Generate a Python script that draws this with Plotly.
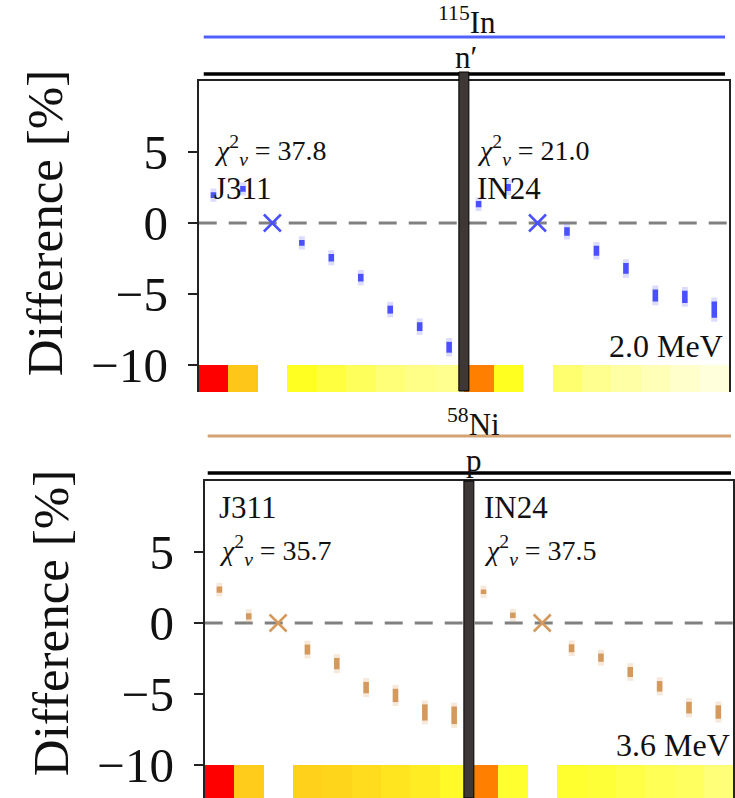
import plotly.graph_objects as go

# ---------------- data ----------------
libraries = ["J311", "IN24"]
n_per_lib = 9

# 115In (n')  top panel
in_diff_j311 = [1.96, 2.4, 0.0, -1.4, -2.45, -3.85, -6.1, -7.3, -8.75]
in_err_j311 = [0.2, 0.2, 0.0, 0.2, 0.26, 0.27, 0.28, 0.31, 0.38]
in_diff_in24 = [1.33, 2.5, 0.0, -0.6, -1.95, -3.2, -5.1, -5.2, -6.1]
in_err_in24 = [0.22, 0.25, 0.0, 0.3, 0.35, 0.38, 0.42, 0.43, 0.58]
in_chi2 = [37.8, 21.0]
in_energy = "2.0 MeV"
in_cells_j311 = ["#ff0000", "#ffc61a", "#ffffff", "#ffff22", "#ffff40", "#ffff5c", "#ffff78", "#ffff88", "#ffff90"]
in_cells_in24 = ["#ff8000", "#ffff20", "#ffffff", "#ffff70", "#ffff90", "#ffffa6", "#ffffb8", "#ffffcc", "#ffffdc"]

# 58Ni (p)  bottom panel
ni_diff_j311 = [2.35, 0.47, 0.0, -1.87, -2.86, -4.55, -5.1, -6.3, -6.5]
ni_err_j311 = [0.22, 0.22, 0.0, 0.35, 0.4, 0.4, 0.47, 0.57, 0.62]
ni_diff_in24 = [2.2, 0.54, 0.0, -1.78, -2.44, -3.45, -4.46, -5.96, -6.27]
ni_err_in24 = [0.16, 0.19, 0.0, 0.28, 0.29, 0.35, 0.37, 0.41, 0.47]
ni_chi2 = [35.7, 37.5]
ni_energy = "3.6 MeV"
ni_cells_j311 = ["#ff0000", "#ffcc1c", "#ffffff", "#ffd11a", "#ffd51c", "#ffdd1e", "#ffe420", "#ffec22", "#fffa28"]
ni_cells_in24 = ["#ff8000", "#ffff30", "#ffffff", "#ffff30", "#ffff38", "#ffff48", "#ffff55", "#ffff60", "#ffff78"]

y_ticks = [-10, -5, 0, 5]

# ---------------- styling ----------------
W, H = 735, 798          # target picture size (positions below are in these pixels)
FIG_H = 826              # layout height (picture is rendered squeezed to 798)
FONT = "Liberation Serif"
BLUE = "#4a4fff"
BLUE_HALO = "rgba(110,115,255,0.25)"
TAN = "#d4995c"
TAN_HALO = "rgba(212,153,92,0.22)"


def px(x):
    return x / W


def py(y):
    return 1 - y / H


fig = go.Figure()

panels = [
    dict(xa="x", ya="y", xs="x2", ys="y2",
         diffs=[in_diff_j311, in_diff_in24], errs=[in_err_j311, in_err_in24],
         cells=in_cells_j311 + in_cells_in24, color=BLUE, halo=BLUE_HALO),
    dict(xa="x3", ya="y3", xs="x4", ys="y4",
         diffs=[ni_diff_j311, ni_diff_in24], errs=[ni_err_j311, ni_err_in24],
         cells=ni_cells_j311 + ni_cells_in24, color=TAN, halo=TAN_HALO),
]

for p in panels:
    for li, (d, e) in enumerate(zip(p["diffs"], p["errs"])):
        xs = [li * n_per_lib + i for i in range(n_per_lib)]
        ref = [i for i, v in enumerate(e) if v == 0]
        pts = [i for i, v in enumerate(e) if v != 0]
        fig.add_trace(go.Scatter(
            x=[xs[i] for i in pts], y=[d[i] for i in pts], mode="markers",
            marker=dict(size=1, color="rgba(0,0,0,0)"),
            error_y=dict(type="data", array=[e[i] + 0.27 for i in pts], width=0,
                         thickness=6, color=p["halo"]),
            xaxis=p["xa"], yaxis=p["ya"], hoverinfo="skip"))
        fig.add_trace(go.Scatter(
            x=[xs[i] for i in pts], y=[d[i] for i in pts], mode="markers",
            marker=dict(size=1, color="rgba(0,0,0,0)"),
            error_y=dict(type="data", array=[e[i] for i in pts], width=0,
                         thickness=5.5, color=p["color"]),
            xaxis=p["xa"], yaxis=p["ya"]))
        fig.add_trace(go.Scatter(
            x=[xs[i] for i in ref], y=[d[i] for i in ref], mode="markers",
            marker=dict(symbol="x-thin", size=17, line=dict(width=2.5, color=p["color"])),
            xaxis=p["xa"], yaxis=p["ya"]))
    fig.add_trace(go.Bar(
        x=list(range(2 * n_per_lib)), y=[1] * (2 * n_per_lib), width=1,
        marker=dict(color=p["cells"], line=dict(width=0)),
        xaxis=p["xs"], yaxis=p["ys"], hoverinfo="skip"))

xr = [-0.5, 2 * n_per_lib - 0.5]
LINE = "#222222"

main_y = dict(range=[-10, 10], tickvals=y_ticks, ticks="outside", ticklen=9, tickwidth=1.5,
              tickcolor=LINE, tickfont=dict(family=FONT, size=49, color="#111"),
              ticklabelstandoff=10,
              showline=True, mirror=True, linecolor=LINE, linewidth=2,
              showgrid=False, zeroline=False,
              title=dict(text="Difference [%]", font=dict(family=FONT, size=51, color="#111"),
                         standoff=12))
main_x = dict(range=xr, showticklabels=False, ticks="", showline=True, mirror=True,
              linecolor=LINE, linewidth=2, showgrid=False, zeroline=False)
strip_x = dict(range=xr, showticklabels=False, ticks="", showline=False, showgrid=False,
               zeroline=False)
strip_y = dict(range=[0, 1], showticklabels=False, ticks="", showline=True, mirror=True,
               linecolor=LINE, linewidth=2, showgrid=False, zeroline=False)

fig.update_layout(
    width=W, height=FIG_H, margin=dict(l=0, r=0, t=0, b=0),
    paper_bgcolor="white", plot_bgcolor="white", showlegend=False, bargap=0,
    xaxis=dict(main_x, domain=[px(199), px(730)], anchor="y"),
    yaxis=dict(main_y, domain=[py(365), py(81)], anchor="x"),
    xaxis2=dict(strip_x, domain=[px(199), px(730)], anchor="y2"),
    yaxis2=dict(strip_y, domain=[py(392), py(365)], anchor="x2"),
    xaxis3=dict(main_x, domain=[px(205), px(734)], anchor="y3"),
    yaxis3=dict(main_y, domain=[py(765), py(481)], anchor="x3"),
    xaxis4=dict(strip_x, domain=[px(205), px(734)], anchor="y4"),
    yaxis4=dict(strip_y, domain=[0, py(765)], anchor="x4"),
)

shapes = []
for xa, ya in [("x", "y"), ("x3", "y3")]:
    shapes.append(dict(type="line", xref=f"{xa} domain", yref=ya, x0=0, x1=1, y0=0, y1=0,
                       line=dict(color="#808080", width=3, dash="18px,12px"), layer="below"))
shapes += [
    dict(type="line", xref="paper", yref="paper", x0=px(204), x1=px(726), y0=py(37), y1=py(37),
         line=dict(color="#5060ff", width=3)),
    dict(type="line", xref="paper", yref="paper", x0=px(204), x1=px(726), y0=py(74), y1=py(74),
         line=dict(color="black", width=3.5)),
    dict(type="line", xref="paper", yref="paper", x0=px(208), x1=px(732), y0=py(436), y1=py(436),
         line=dict(color="#d4a373", width=3)),
    dict(type="line", xref="paper", yref="paper", x0=px(208), x1=px(732), y0=py(473), y1=py(473),
         line=dict(color="black", width=3.5)),
]
sep = n_per_lib - 0.5
for xa, y0, y1 in [("x", 391, 72), ("x3", 798, 481)]:
    shapes.append(dict(type="rect", xref=xa, yref="paper", x0=sep - 0.17, x1=sep + 0.17,
                       y0=py(y0), y1=py(y1), fillcolor="#3d3836",
                       line=dict(color="black", width=1), layer="above"))
fig.update_layout(shapes=shapes)

ann = []


def text(x, y, s, size, xanchor="left"):
    ann.append(dict(x=px(x), y=py(y), xref="paper", yref="paper", text=s, showarrow=False,
                    xanchor=xanchor, yanchor="middle",
                    font=dict(family=FONT, size=size, color="#111")))


def chi(v):
    return f"<i>χ</i><sup>2</sup><sub><i>ν</i></sub> = {v:.1f}"


text(468, 20, "<sup>115</sup>In", 31, "center")
text(467, 58, "n′", 31, "center")
text(212, 150, chi(in_chi2[0]), 28)
text(212, 188, libraries[0], 31)
text(476, 150, chi(in_chi2[1]), 28)
text(476, 188, libraries[1], 31)
text(726, 346, in_energy, 32, "right")
text(474, 422, "<sup>58</sup>Ni", 31, "center")
text(475, 460, "p", 31, "center")
text(217, 507, libraries[0], 31)
text(217, 550, chi(ni_chi2[0]), 28)
text(483, 507, libraries[1], 31)
text(483, 550, chi(ni_chi2[1]), 28)
text(733, 745, ni_energy, 32, "right")
fig.update_layout(annotations=ann)

post = """
document.body.style.margin = '0';
document.body.style.padding = '0';
"""
fig.write_html("out.html", post_script=post)
